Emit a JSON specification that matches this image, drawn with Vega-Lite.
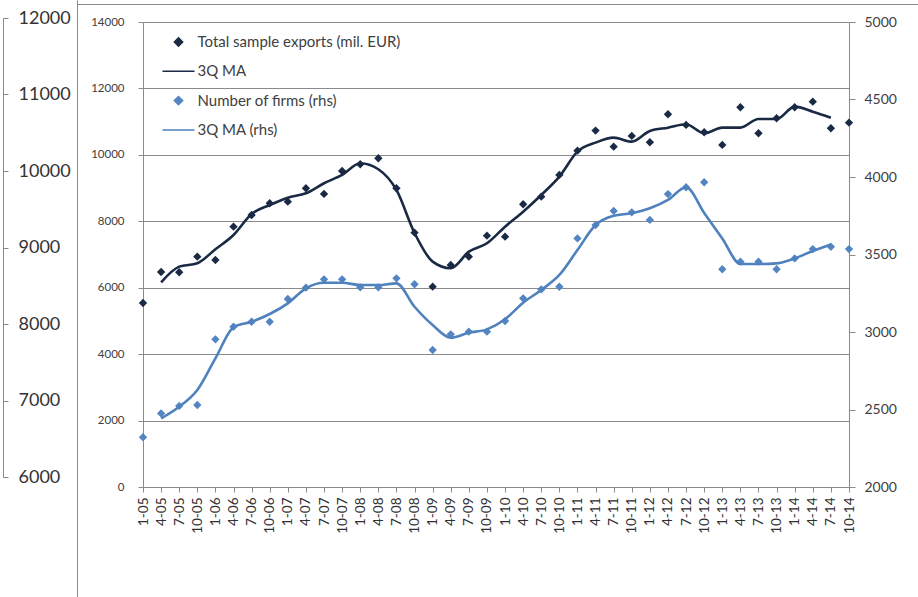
{
 "$schema": "https://vega.github.io/schema/vega-lite/v6.json",
 "width": 706,
 "height": 465,
 "autosize": {"type": "none"},
 "padding": {"left": 143, "top": 22, "right": 69, "bottom": 110},
 "background": "white",
 "config": {
  "view": {"stroke": null},
  "axis": {"labelFont": "Lato", "labelColor": "#404040", "domainColor": "#8a8a8a", "tickColor": "#8a8a8a", "gridColor": "#8a8a8a", "gridOpacity": 1, "titleFont": "Lato"}
 },
 "data": {"values": [
   {"q": "1-05", "exports": 5540, "exportsMA": null, "firms": 2321, "firmsMA": null},
   {"q": "4-05", "exports": 6474, "exportsMA": 6163, "firms": 2475, "firmsMA": 2443},
   {"q": "7-05", "exports": 6465, "exportsMA": 6634, "firms": 2523, "firmsMA": 2518},
   {"q": "10-05", "exports": 6935, "exportsMA": 6735, "firms": 2529, "firmsMA": 2626},
   {"q": "1-06", "exports": 6835, "exportsMA": 7157, "firms": 2953, "firmsMA": 2830},
   {"q": "4-06", "exports": 7838, "exportsMA": 7588, "firms": 3034, "firmsMA": 3030},
   {"q": "7-06", "exports": 8190, "exportsMA": 8220, "firms": 3066, "firmsMA": 3066},
   {"q": "10-06", "exports": 8542, "exportsMA": 8491, "firms": 3066, "firmsMA": 3116},
   {"q": "1-07", "exports": 8591, "exportsMA": 8711, "firms": 3213, "firmsMA": 3185},
   {"q": "4-07", "exports": 8994, "exportsMA": 8844, "firms": 3286, "firmsMA": 3282},
   {"q": "7-07", "exports": 8823, "exportsMA": 9145, "firms": 3340, "firmsMA": 3318},
   {"q": "10-07", "exports": 9515, "exportsMA": 9395, "firms": 3340, "firmsMA": 3318},
   {"q": "1-08", "exports": 9717, "exportsMA": 9747, "firms": 3288, "firmsMA": 3303},
   {"q": "4-08", "exports": 9897, "exportsMA": 9566, "firms": 3288, "firmsMA": 3303},
   {"q": "7-08", "exports": 8994, "exportsMA": 8943, "firms": 3346, "firmsMA": 3314},
   {"q": "10-08", "exports": 7658, "exportsMA": 7648, "firms": 3308, "firmsMA": 3163},
   {"q": "1-09", "exports": 6032, "exportsMA": 6785, "firms": 2884, "firmsMA": 3045},
   {"q": "4-09", "exports": 6685, "exportsMA": 6585, "firms": 2985, "firmsMA": 2963},
   {"q": "7-09", "exports": 6935, "exportsMA": 7085, "firms": 3002, "firmsMA": 2995},
   {"q": "10-09", "exports": 7568, "exportsMA": 7338, "firms": 3002, "firmsMA": 3017},
   {"q": "1-10", "exports": 7538, "exportsMA": 7838, "firms": 3071, "firmsMA": 3082},
   {"q": "4-10", "exports": 8512, "exportsMA": 8290, "firms": 3217, "firmsMA": 3189},
   {"q": "7-10", "exports": 8742, "exportsMA": 8793, "firms": 3275, "firmsMA": 3271},
   {"q": "10-10", "exports": 9395, "exportsMA": 9344, "firms": 3292, "firmsMA": 3368},
   {"q": "1-11", "exports": 10127, "exportsMA": 10097, "firms": 3604, "firmsMA": 3529},
   {"q": "4-11", "exports": 10730, "exportsMA": 10368, "firms": 3690, "firmsMA": 3690},
   {"q": "7-11", "exports": 10247, "exportsMA": 10518, "firms": 3781, "firmsMA": 3750},
   {"q": "10-11", "exports": 10569, "exportsMA": 10398, "firms": 3772, "firmsMA": 3766},
   {"q": "1-12", "exports": 10380, "exportsMA": 10720, "firms": 3723, "firmsMA": 3798},
   {"q": "4-12", "exports": 11223, "exportsMA": 10819, "firms": 3890, "firmsMA": 3852},
   {"q": "7-12", "exports": 10900, "exportsMA": 10921, "firms": 3934, "firmsMA": 3934},
   {"q": "10-12", "exports": 10681, "exportsMA": 10650, "firms": 3966, "firmsMA": 3768},
   {"q": "1-13", "exports": 10298, "exportsMA": 10819, "firms": 3405, "firmsMA": 3604},
   {"q": "4-13", "exports": 11433, "exportsMA": 10819, "firms": 3454, "firmsMA": 3439},
   {"q": "7-13", "exports": 10650, "exportsMA": 11081, "firms": 3454, "firmsMA": 3439},
   {"q": "10-13", "exports": 11102, "exportsMA": 11081, "firms": 3405, "firmsMA": 3443},
   {"q": "1-14", "exports": 11433, "exportsMA": 11452, "firms": 3475, "firmsMA": 3475},
   {"q": "4-14", "exports": 11602, "exportsMA": 11301, "firms": 3535, "firmsMA": 3523},
   {"q": "7-14", "exports": 10801, "exportsMA": 11120, "firms": 3550, "firmsMA": 3565},
   {"q": "10-14", "exports": 10970, "exportsMA": null, "firms": 3535, "firmsMA": null}
 ]},
 "layer": [
  {
   "mark": {"type": "point", "filled": true, "opacity": 1, "size": 1024},
   "encoding": {
    "x": {"field": "q", "type": "ordinal", "sort": null, "scale": {"type": "point", "padding": 0},
          "axis": {"orient": "bottom", "title": null, "labelAngle": 270, "labelFontSize": 13.5, "labelColor": "#303030", "tickSize": 5, "labelPadding": 5, "grid": false, "labelOverlap": false}},
    "y": {"field": "exports", "type": "quantitative", "scale": {"domain": [0, 14000], "nice": false},
          "axis": {"title": null, "format": "d", "values": [0, 2000, 4000, 6000, 8000, 10000, 12000, 14000], "grid": true, "tickSize": 5, "labelPadding": 14, "labelFontSize": 11.5}},
    "color": {"datum": "Total sample exports (mil. EUR)", "type": "nominal",
      "scale": {"domain": ["Total sample exports (mil. EUR)", "3Q MA", "Number of firms (rhs)", "3Q MA (rhs)"], "range": ["#1b2a44", "#1b2a44", "#5385c2", "#4f81bd"]},
      "legend": {"orient": "none", "legendX": 18.5, "legendY": 3, "title": null, "symbolSize": 1024, "labelFont": "Lato", "labelFontSize": 15, "labelColor": "#404040", "labelOffset": 2, "labelLimit": 0, "rowPadding": 4.3, "padding": 0,
        "encode": {"symbols": {"update": {"fill": {"scale": "color", "field": "value"}, "stroke": {"scale": "color", "field": "value"}, "strokeWidth": {"signal": "indexof(datum.value, 'MA') >= 0 ? 2.6 : 0"}, "opacity": {"value": 1}}}}}},
    "shape": {"datum": "Total sample exports (mil. EUR)", "type": "nominal",
      "scale": {"domain": ["Total sample exports (mil. EUR)", "3Q MA", "Number of firms (rhs)", "3Q MA (rhs)"], "range": ["M0,-0.26L0.26,0L0,0.26L-0.26,0Z", "M-1,0L1,0", "M0,-0.26L0.26,0L0,0.26L-0.26,0Z", "M-1,0L1,0"]},
      "legend": {"orient": "none", "legendX": 18.5, "legendY": 3, "title": null, "symbolSize": 1024, "labelFont": "Lato", "labelFontSize": 15, "labelColor": "#404040", "labelOffset": 2, "labelLimit": 0, "rowPadding": 4.3, "padding": 0,
        "encode": {"symbols": {"update": {"fill": {"scale": "color", "field": "value"}, "stroke": {"scale": "color", "field": "value"}, "strokeWidth": {"signal": "indexof(datum.value, 'MA') >= 0 ? 2.6 : 0"}, "opacity": {"value": 1}}}}}}
   }
  },
  {
   "mark": {"type": "line", "interpolate": "monotone", "strokeWidth": 2.6},
   "encoding": {
    "x": {"field": "q", "type": "ordinal", "sort": null, "scale": {"type": "point", "padding": 0}, "axis": null},
    "y": {"field": "exportsMA", "type": "quantitative", "scale": {"domain": [0, 14000], "nice": false}, "axis": null},
    "color": {"datum": "3Q MA", "type": "nominal", "legend": null}
   }
  },
  {
   "mark": {"type": "point", "filled": true, "opacity": 1, "size": 1024},
   "encoding": {
    "x": {"field": "q", "type": "ordinal", "sort": null, "scale": {"type": "point", "padding": 0}, "axis": null},
    "y": {"field": "firms", "type": "quantitative", "scale": {"domain": [2000, 5000], "nice": false, "zero": false},
          "axis": {"orient": "right", "title": null, "format": "d", "values": [2000, 2500, 3000, 3500, 4000, 4500, 5000], "grid": false, "tickSize": 6, "labelPadding": 9, "labelFontSize": 14}},
    "color": {"datum": "Number of firms (rhs)", "type": "nominal", "legend": null},
    "shape": {"datum": "Number of firms (rhs)", "type": "nominal", "legend": null}
   }
  },
  {
   "mark": {"type": "line", "interpolate": "monotone", "strokeWidth": 2.6},
   "encoding": {
    "x": {"field": "q", "type": "ordinal", "sort": null, "scale": {"type": "point", "padding": 0}, "axis": null},
    "y": {"field": "firmsMA", "type": "quantitative", "scale": {"domain": [2000, 5000], "nice": false, "zero": false}, "axis": null},
    "color": {"datum": "3Q MA (rhs)", "type": "nominal", "legend": null}
   }
  },
  {
   "mark": {"type": "point", "opacity": 0},
   "encoding": {
    "x": {"field": "q", "type": "ordinal", "sort": null, "scale": {"type": "point", "padding": 0}, "axis": null},
    "y": {"field": "exports", "type": "quantitative", "scale": {"domain": [6000, 12000], "range": [455, -4], "nice": false, "zero": false},
          "axis": {"orient": "right", "offset": -846, "title": null, "format": "d", "values": [6000, 7000, 8000, 9000, 10000, 11000, 12000], "grid": false, "tickSize": 5, "labelPadding": 10, "labelFontSize": 18, "labelColor": "#333333"}}
   }
  },
  {
   "mark": {"type": "point", "opacity": 0},
   "encoding": {
    "x": {"field": "exports", "type": "quantitative", "scale": {"domain": [0, 1], "range": [-66, 775]},
          "axis": {"orient": "top", "offset": 18, "labels": false, "ticks": false, "grid": false, "title": null}},
    "y": {"field": "exports", "type": "quantitative", "scale": {"domain": [0, 1], "range": [575, -22]},
          "axis": {"orient": "left", "offset": 66, "labels": false, "ticks": false, "grid": false, "title": null}}
   }
  }
 ],
 "resolve": {"scale": {"x": "independent", "y": "independent"}}
}
